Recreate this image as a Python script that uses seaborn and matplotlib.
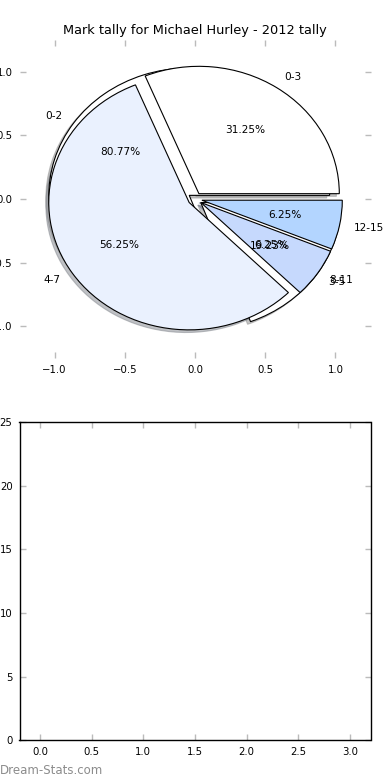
import matplotlib
matplotlib.use("Agg")
import matplotlib.pyplot as plt
import seaborn as sns
import numpy as np

# data
labels_a = ["0-3", "4-7", "8-11", "12-15"]
counts_a = [5, 9, 1, 1]
labels_b = ["0-2", "3-5"]
counts_b = [21, 5]
title = "Mark tally for Michael Hurley - 2012 tally"

colors_a = ["#ffffff", "#eaf1fe", "#c6d9fd", "#b3d5ff"]
colors_b = ["#ffffff", "#ffffff"]

sns.set_style("white")
plt.rcParams["font.family"] = ["DejaVu Sans"]
plt.rcParams["font.size"] = 7
plt.rcParams["text.color"] = "black"
plt.rcParams["xtick.labelcolor"] = "black"
plt.rcParams["ytick.labelcolor"] = "black"

fig, (ax1, ax2) = plt.subplots(2, 1, figsize=(3.9, 7.8), dpi=100)
fig.subplots_adjust(left=0.05, right=0.95, top=0.949, bottom=0.051, hspace=0.2)

wedge_style = {"edgecolor": "black", "linewidth": 0.8}
shadow_style = {"ox": -0.015, "oy": -0.015, "shade": 0.45}
text_style = {"fontsize": 7.6, "color": "black"}

# second pie sits underneath
ax1.pie(counts_b, labels=labels_b, colors=colors_b, autopct="%.2f%%",
        explode=[0.05] * len(counts_b), shadow=shadow_style, startangle=0,
        wedgeprops=wedge_style, textprops=text_style)
ax1.pie(counts_a, labels=labels_a, colors=colors_a, autopct="%.2f%%",
        explode=[0.05] * len(counts_a), shadow=shadow_style, startangle=0,
        wedgeprops=wedge_style, textprops=text_style)

ax1.set_aspect("auto")
ax1.set_xlim(-1.25, 1.25)
ax1.set_ylim(-1.25, 1.25)
ax1.set_frame_on(False)
ticks = np.arange(-1.0, 1.01, 0.5)
ax1.set_xticks(ticks)
ax1.set_yticks(ticks)
ax1.set_xticklabels([f"{t:.1f}".replace("-", "\u2212") for t in ticks])
ax1.set_yticklabels([f"{t:.1f}".replace("-", "\u2212") for t in ticks])
ax1.set_title(title, fontsize=9.3, pad=4, color="black")

for ax in (ax1, ax2):
    ax.tick_params(direction="in", length=4, width=1, color="#bbbbbb",
                   top=True, right=True, labelsize=7.3, pad=5,
                   left=True, bottom=True, labelcolor="black")

# empty lower panel
ax2.set_xlim(-0.2, 3.2)
ax2.set_ylim(0, 25)
ax2.set_xticks(np.arange(0, 3.01, 0.5))
ax2.set_xticklabels([f"{t:.1f}" for t in np.arange(0, 3.01, 0.5)])
ax2.set_yticks(range(0, 26, 5))
for s in ax2.spines.values():
    s.set_visible(True)
    s.set_color("black")
    s.set_linewidth(1)

fig.text(0.0, 0.004, "Dream-Stats.com", color="#8c8c8c", fontsize=8.5,
         ha="left", va="bottom")

fig.savefig("out.png", dpi=100)
